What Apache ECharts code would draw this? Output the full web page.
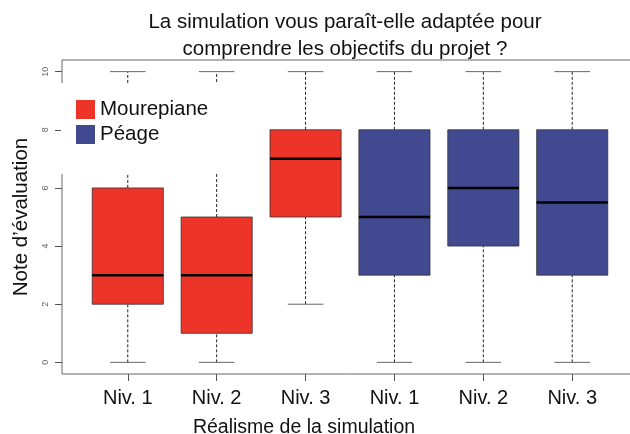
<!DOCTYPE html>
<html>
<head>
<meta charset="utf-8">
<script src="https://cdn.jsdelivr.net/npm/echarts@6/dist/echarts.min.js"></script>
<style>
  html, body { margin: 0; padding: 0; background: #fff; }
  #chart { width: 630px; height: 434px; }
</style>
</head>
<body>
<div id="chart"></div>
<script>
// niveaux de réalisme, répétés pour chaque site
const levels = ["Niv. 1", "Niv. 2", "Niv. 3"];
const yTicks = [0, 2, 4, 6, 8, 10];

// [min, q1, médiane, q3, max]
const mourepiane = [
  [0, 2, 3, 6, 10],
  [0, 1, 3, 5, 10],
  [2, 5, 7, 8, 10],
];
const peage = [
  [0, 3, 5, 8, 10],
  [0, 4, 6, 8, 10],
  [0, 3, 5.5, 8, 10],
];

const categories = levels.concat(levels);
const xPos = categories.map((c, i) => i + 1);

let chartDom = document.getElementById("chart");
let myChart = echarts.init(chartDom);

function renderBox(params, api) {
  const x = api.value(0);
  const lo = api.coord([x, api.value(1)]);
  const q1 = api.coord([x, api.value(2)]);
  const med = api.coord([x, api.value(3)]);
  const q3 = api.coord([x, api.value(4)]);
  const hi = api.coord([x, api.value(5)]);
  const w = api.size([0.8, 0])[0];
  const capW = w / 2;
  const cx = lo[0];
  const dash = { stroke: "#222", lineWidth: 1, lineDash: [3, 2] };
  const cap = { stroke: "#666", lineWidth: 1 };
  return {
    type: "group",
    children: [
      { type: "line", shape: { x1: cx, y1: lo[1], x2: cx, y2: q1[1] }, style: dash },
      { type: "line", shape: { x1: cx, y1: q3[1], x2: cx, y2: hi[1] }, style: dash },
      { type: "line", shape: { x1: cx - capW / 2, y1: lo[1], x2: cx + capW / 2, y2: lo[1] }, style: cap },
      { type: "line", shape: { x1: cx - capW / 2, y1: hi[1], x2: cx + capW / 2, y2: hi[1] }, style: cap },
      {
        type: "rect",
        shape: { x: cx - w / 2, y: q3[1], width: w, height: q1[1] - q3[1] },
        style: { fill: api.visual("color"), stroke: "#333", lineWidth: 0.8 },
      },
      { type: "line", shape: { x1: cx - w / 2, y1: med[1], x2: cx + w / 2, y2: med[1] }, style: { stroke: "#000", lineWidth: 2.5 } },
    ],
  };
}

let option = {
  animation: false,
  title: {
    text: "La simulation vous paraît-elle adaptée pour\ncomprendre les objectifs du projet ?",
    left: 340,
    textAlign: "center",
    top: 4,
    textStyle: {
      fontFamily: "Liberation Sans",
      fontSize: 20.5,
      fontWeight: "normal",
      color: "#111",
      lineHeight: 27,
    },
  },
  legend: {
    orient: "vertical",
    left: 61,
    top: 83,
    padding: [16, 45, 29, 15],
    backgroundColor: "#fff",
    z: 10,
    icon: "rect",
    itemWidth: 19,
    itemHeight: 19,
    itemGap: 4,
    data: ["Mourepiane", "Péage"],
    textStyle: { fontFamily: "Liberation Sans", fontSize: 20.5, color: "#111", lineHeight: 19 },
  },
  grid: {
    show: true,
    left: 62,
    top: 60,
    width: 576,
    height: 314,
    outerBoundsMode: "none",
    containLabel: false,
    borderColor: "#666",
    borderWidth: 1,
  },
  xAxis: {
    type: "value",
    min: 0.26,
    max: 6.74,
    name: "Réalisme de la simulation",
    nameLocation: "middle",
    nameGap: 44,
    nameTextStyle: {
      fontFamily: "Liberation Sans",
      fontSize: 19.5,
      color: "#111",
      padding: [0, 92, 0, 0],
    },
    axisLine: { show: false, onZero: false },
    splitLine: { show: false },
    axisTick: { customValues: xPos, length: 7, lineStyle: { color: "#555" } },
    axisLabel: {
      customValues: xPos,
      margin: 14,
      fontFamily: "Liberation Sans",
      fontSize: 20,
      color: "#111",
      formatter: (v) => categories[Math.round(v) - 1],
    },
  },
  yAxis: {
    type: "value",
    min: -0.4,
    max: 10.4,
    name: "Note d’évaluation",
    nameLocation: "middle",
    nameGap: 30,
    nameTextStyle: { fontFamily: "Liberation Sans", fontSize: 20.5, color: "#111" },
    axisLine: { show: false, onZero: false },
    splitLine: { show: false },
    axisTick: { customValues: yTicks, length: 7, lineStyle: { color: "#555" } },
    axisLabel: {
      customValues: yTicks,
      rotate: 90,
      margin: 12,
      fontFamily: "Liberation Sans",
      fontSize: 9,
      color: "#666",
    },
  },
  series: [
    {
      name: "Mourepiane",
      type: "custom",
      renderItem: renderBox,
      itemStyle: { color: "#EC3428" },
      encode: { x: 0, y: [1, 2, 3, 4, 5] },
      data: mourepiane.map((d, i) => [xPos[i]].concat(d)),
    },
    {
      name: "Péage",
      type: "custom",
      renderItem: renderBox,
      itemStyle: { color: "#414990" },
      encode: { x: 0, y: [1, 2, 3, 4, 5] },
      data: peage.map((d, i) => [xPos[i + levels.length]].concat(d)),
    },
  ],
};

option && myChart.setOption(option);
</script>
</body>
</html>
